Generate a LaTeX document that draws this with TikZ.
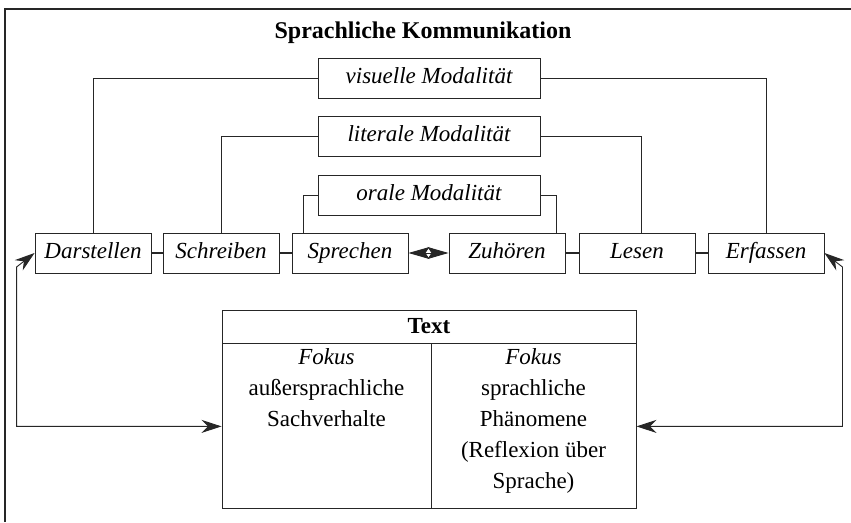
\documentclass[tikz,border=0pt]{standalone}
\usepackage{fontspec}
\setmainfont{Liberation Serif}
\usetikzlibrary{arrows.meta,positioning,calc}
\newcommand\schrift{\fontsize{23}{31}\selectfont}
\begin{document}
\begin{tikzpicture}[x=1pt,y=-1pt,
	font=\schrift,
	line width=0.9pt, draw=black!85,
	box/.style={draw, minimum width=116pt, minimum height=40pt, inner sep=0pt,
		text height=16pt, text depth=5pt, font=\schrift\itshape},
	modbox/.style={box, minimum width=222pt},
	glied/.style={line width=1.8pt},
	pfeil/.style={{Stealth[length=20pt,width=13pt]}-{Stealth[length=20pt,width=13pt]}},
	spalte/.style={draw, minimum height=165pt, inner sep=0pt},
	spaltentext/.style={align=center, inner sep=0pt}]
	\useasboundingbox (0,0) rectangle (851,522);
	% Rahmen
	\draw[line width=1.2pt] (5,522) -- (5,9) -- (851,9);
	\node[font=\fontsize{24}{31}\selectfont\bfseries] (titel) at (423,33) {Sprachliche Kommunikation};
	% Modalitaeten
	\node[modbox] (vis) at (429,78) {visuelle Modalität};
	\node[modbox] (lit) at (429,136) {literale Modalität};
	\node[modbox] (oral) at (429,195) {orale Modalität};
	% Taetigkeiten
	\foreach \n/\t/\x in {dar/Darstellen/93, schr/Schreiben/221, spr/Sprechen/350,
		zuh/Zuhören/507, les/Lesen/637, erf/Erfassen/766}
	\node[box] (\n) at (\x,253) {\t};
	\draw (vis.west) -| (dar.north);
	\draw (vis.east) -| (erf.north);
	\draw (lit.west) -| (schr.north);
	\draw (lit.east) -| ([xshift=4pt]les.north);
	\draw (oral.west) -| ([xshift=12pt]spr.north west);
	\draw (oral.east) -| ([xshift=-9pt]zuh.north east);
	\foreach \a/\b in {dar/schr, schr/spr, zuh/les, les/erf}
	\draw[glied] (\a) -- (\b);
	\coordinate (mitte) at ($(spr.east)!0.5!(zuh.west)$);
	\draw[-{Stealth[length=21pt,width=12pt,inset=4pt]}] (mitte) -- (spr.east);
	\draw[-{Stealth[length=21pt,width=12pt,inset=4pt]}] (mitte) -- (zuh.west);
	% Text
	\node[draw, minimum width=414pt, minimum height=33pt, inner sep=0pt, font=\schrift\bfseries] (txt) at (429,326.5) {Text};
	\node[spalte, minimum width=209pt, anchor=north west] (links) at (txt.south west) {};
	\node[spalte, minimum width=205pt, anchor=north east] (rechts) at (txt.south east) {};
	\node[spaltentext, below=5pt of links.north] (linkstext) {\textit{Fokus}\\außersprachliche\\Sachverhalte};
	\node[spaltentext, below=5pt of rechts.north] (rechtstext) {\textit{Fokus}\\sprachliche\\Phänomene\\(Reflexion über\\Sprache)};
	\draw[pfeil] (dar.west) -- ++(-18,14) |- (links.west);
	\draw[pfeil] (erf.east) -- ++(18,14) |- (rechts.east);
\end{tikzpicture}
\end{document}
